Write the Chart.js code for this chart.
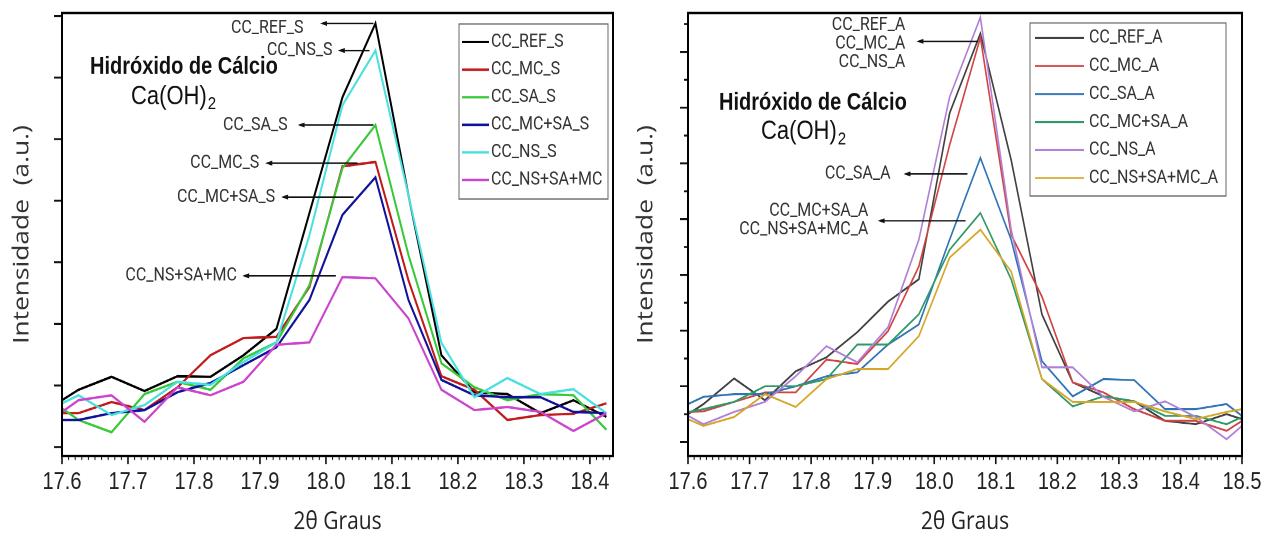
<!DOCTYPE html>
<html>
<head>
<meta charset="utf-8">
<script src="https://cdn.jsdelivr.net/npm/chart.js@4.4.1/dist/chart.umd.min.js"></script>
<style>
  html, body { margin: 0; padding: 0; background: #fff; }
  #wrap { position: relative; width: 1274px; height: 537px; overflow: hidden; }
  canvas { position: absolute; top: 0; }
</style>
</head>
<body>
<div id="wrap">
  <canvas id="chartS" width="630" height="448" style="left:0;width:630px;height:537px"></canvas>
  <canvas id="chartA" width="644" height="448" style="left:630px;width:644px;height:537px"></canvas>
</div>
<script>
// 2θ positions (graus): frame edge, then one reading every 0.05
const twoThetaS = [17.6, 17.625, 17.675, 17.725, 17.775, 17.825, 17.875, 17.925, 17.975,
  18.025, 18.075, 18.125, 18.175, 18.225, 18.275, 18.325, 18.375, 18.425];
const twoThetaA = [17.6, 17.625, 17.675, 17.725, 17.775, 17.825, 17.875, 17.925, 17.975,
  18.025, 18.075, 18.125, 18.175, 18.225, 18.275, 18.325, 18.375, 18.425, 18.475, 18.5];

// intensidades (a.u.) - serie S
const ccRefS   = [76, 93, 114, 91, 115, 114, 149, 192, 380, 568, 688, 409, 149, 89, 86, 55, 76, 49];
const ccMcS    = [55, 55, 73, 60, 97, 149, 177, 179, 260, 456, 463, 271, 115, 93, 44, 52, 54, 71];
const ccSaS    = [63, 44, 24, 86, 106, 93, 144, 170, 263, 453, 523, 312, 136, 97, 76, 86, 84, 28];
const ccMcSaS  = [44, 44, 55, 60, 89, 104, 133, 162, 239, 377, 438, 239, 109, 84, 81, 81, 57, 55];
const ccNsS    = [71, 84, 52, 68, 106, 101, 138, 170, 344, 555, 644, 409, 169, 81, 112, 86, 94, 55];
const ccNsSaMc = [57, 76, 84, 41, 97, 84, 106, 166, 170, 276, 274, 209, 93, 60, 65, 57, 26, 55];

// intensidades (a.u.) - serie A
const ccRefA    = [50, 68, 114, 75, 127, 152, 197, 252, 292, 590, 733, 506, 229, 107, 82, 73, 38, 32, 50, 41];
const ccMcA     = [54, 55, 72, 89, 89, 148, 140, 199, 315, 533, 726, 372, 261, 107, 89, 59, 38, 38, 20, 38];
const ccSaA     = [68, 81, 86, 86, 100, 118, 125, 175, 211, 363, 510, 363, 145, 82, 113, 111, 59, 59, 68, 47];
const ccMcSaA   = [54, 59, 72, 100, 100, 113, 175, 175, 229, 345, 411, 292, 113, 64, 82, 73, 47, 47, 32, 45];
const ccNsA     = [47, 32, 54, 72, 118, 172, 143, 206, 363, 619, 762, 381, 134, 134, 81, 55, 73, 45, 5, 29];
const ccNsSaMcA = [41, 29, 45, 86, 63, 113, 131, 131, 190, 331, 381, 306, 113, 72, 72, 72, 55, 41, 54, 59];

// ticks
const xTicksS = [17.6, 17.7, 17.8, 17.9, 18.0, 18.1, 18.2, 18.3, 18.4];
const xTicksA = [17.6, 17.7, 17.8, 17.9, 18.0, 18.1, 18.2, 18.3, 18.4, 18.5];
const yTicksS = [0, 100, 200, 300, 400, 500, 600, 700];
const yTicksA = [0, 100, 200, 300, 400, 500, 600, 700];
const yMinorA = [50, 150, 250, 350, 450, 550, 650, 750];

// canvas is drawn 448 high and shown 537 high
const S = 537 / 448;
const LABEL_FONT = '16px Roboto, "Liberation Sans", sans-serif';

function series(label, xs, ys, color, width, i) {
  return {
    label: label,
    data: xs.map((v, k) => ({ x: v, y: ys[k] })),
    borderColor: color,
    borderWidth: width,
    pointRadius: 0,
    tension: 0,
    fill: false,
    order: -i
  };
}

// frame, tick marks, inner legend, arrows and compound name
const frame = {
  id: 'frame',
  afterDraw(chart, args, o) {
    const ctx = chart.ctx, a = chart.chartArea;
    const x = chart.scales.x, y = chart.scales.y;
    ctx.save();

    // 2θ ticks: minor every 0.01, major every 0.1
    ctx.strokeStyle = '#111';
    const n = Math.floor((x.max - x.min) / 0.01 + 1e-6);
    [false, true].forEach(major => {
      ctx.lineWidth = major ? 1.6 : 1;
      ctx.beginPath();
      for (let i = 0; i <= n; i++) {
        if ((i % 10 === 0) !== major) continue;
        const px = x.getPixelForValue(x.min + i * 0.01);
        ctx.moveTo(px, a.bottom);
        ctx.lineTo(px, a.bottom + (major ? 8 : 4) / S);
      }
      ctx.stroke();
    });

    // intensity ticks, outside the frame
    ctx.lineWidth = 1.6;
    ctx.beginPath();
    o.yTicks.forEach(v => {
      const py = y.getPixelForValue(v);
      ctx.moveTo(a.left, py); ctx.lineTo(a.left - 8, py);
    });
    o.yMinor.forEach(v => {
      const py = y.getPixelForValue(v);
      ctx.moveTo(a.left, py); ctx.lineTo(a.left - 4, py);
    });
    ctx.stroke();

    ctx.strokeStyle = '#000';
    ctx.lineWidth = 2;
    ctx.strokeRect(a.left, a.top, a.right - a.left, a.bottom - a.top);

    // legend box
    const L = o.legend;
    ctx.strokeStyle = '#666';
    ctx.lineWidth = 1;
    ctx.strokeRect(L.left, L.top, L.width, L.height);
    ctx.font = LABEL_FONT;
    ctx.textBaseline = 'middle';
    ctx.textAlign = 'left';
    chart.data.datasets.forEach((ds, i) => {
      const ry = L.first + i * L.step;
      ctx.strokeStyle = ds.borderColor;
      ctx.lineWidth = ds.borderWidth;
      ctx.beginPath();
      ctx.moveTo(L.lineX0, ry);
      ctx.lineTo(L.lineX1, ry);
      ctx.stroke();
      ctx.fillStyle = '#333';
      ctx.fillText(ds.label, L.textX, ry);
    });

    // peak arrows with their labels
    ctx.textAlign = 'right';
    o.notes.forEach(nt => {
      const x0 = x.getPixelForValue(nt.from);
      const x1 = x.getPixelForValue(nt.to);
      const py = y.getPixelForValue(nt.at);
      ctx.strokeStyle = '#111';
      ctx.fillStyle = '#111';
      ctx.lineWidth = 1.2;
      ctx.beginPath();
      ctx.moveTo(x0, py);
      ctx.lineTo(x1 + 5, py);
      ctx.stroke();
      ctx.beginPath();
      ctx.moveTo(x1, py);
      ctx.lineTo(x1 + 7, py - 2.5 / S);
      ctx.lineTo(x1 + 7, py + 2.5 / S);
      ctx.closePath();
      ctx.fill();
      const tx = x.getPixelForValue(nt.textX);
      const ty = y.getPixelForValue(nt.textY);
      ctx.fillStyle = '#333';
      nt.lines.forEach((s, k) => {
        ctx.fillText(s, tx, ty + (k - (nt.lines.length - 1) / 2) * 18.5 / S);
      });
    });

    // Hidróxido de Cálcio / Ca(OH)2
    const h = o.heading;
    ctx.textAlign = 'left';
    ctx.fillStyle = '#111';
    ctx.font = 'bold 20px "Liberation Sans", Arial, sans-serif';
    ctx.fillText('Hidróxido de Cálcio', h.x1, h.y1);
    ctx.font = '22px "Liberation Sans", Arial, sans-serif';
    ctx.fillText('Ca(OH)', h.x2, h.y2);
    const w = ctx.measureText('Ca(OH)').width;
    ctx.font = '15px "Liberation Sans", Arial, sans-serif';
    ctx.fillText('2', h.x2 + w + 1, h.y2 + 6);

    ctx.restore();
  }
};

function makeChart(id, sets, xMax, xTicks, yMin, yMax, axisW, padRight, titlePad, plug) {
  return new Chart(document.getElementById(id), {
    type: 'line',
    data: { datasets: sets },
    plugins: [frame],
    options: {
      responsive: false,
      animation: false,
      devicePixelRatio: 2,
      layout: { padding: { top: 13 / S, right: padRight, left: 0, bottom: 0 } },
      plugins: {
        legend: { display: false },
        tooltip: { enabled: false },
        frame: plug
      },
      scales: {
        x: {
          type: 'linear',
          min: 17.6,
          max: xMax,
          grid: { display: false },
          border: { display: false },
          afterBuildTicks: s => { s.ticks = xTicks.map(v => ({ value: v })); },
          afterFit: s => { s.height = 448 - 456 / S; },
          ticks: {
            autoSkip: false,
            maxRotation: 0,
            padding: 2,
            color: '#222',
            font: { family: '"Liberation Sans", Arial, sans-serif', size: 20 },
            callback: v => Number(v).toFixed(1)
          },
          title: {
            display: true,
            text: '2θ Graus',
            color: '#222',
            font: { family: '"Open Sans", sans-serif', size: 21 },
            padding: { top: 0, bottom: 0 }
          }
        },
        y: {
          min: yMin,
          max: yMax,
          grid: { display: false },
          border: { display: false },
          ticks: { display: false },
          afterFit: s => { s.width = axisW; },
          title: {
            display: true,
            text: 'Intensidade  (a.u.)',
            color: '#333',
            font: { family: '"Open Sans", sans-serif', size: 22 },
            padding: { top: titlePad, bottom: 0 }
          }
        }
      }
    }
  });
}

makeChart('chartS', [
  series('CC_REF_S', twoThetaS, ccRefS, '#000000', 2, 0),
  series('CC_MC_S', twoThetaS, ccMcS, '#c01a1a', 2, 1),
  series('CC_SA_S', twoThetaS, ccSaS, '#38c838', 2, 2),
  series('CC_MC+SA_S', twoThetaS, ccMcSaS, '#10109a', 2, 3),
  series('CC_NS_S', twoThetaS, ccNsS, '#48e0e0', 2, 4),
  series('CC_NS+SA+MC', twoThetaS, ccNsSaMc, '#cc44cc', 2, 5)
], 18.435, xTicksS, -14.6, 704.9, 62, 17, 9, {
  yTicks: yTicksS,
  yMinor: [],
  legend: { left: 459, top: 24 / S, width: 149, height: 175 / S, first: 42 / S, step: 27.6 / S,
            lineX0: 462, lineX1: 489, textX: 491 },
  heading: { x1: 90, y1: 67 / S, x2: 131, y2: 97 / S },
  notes: [
    { lines: ['CC_REF_S'], textX: 17.966, textY: 680, from: 18.072, to: 17.991, at: 688 },
    { lines: ['CC_NS_S'], textX: 18.010, textY: 644, from: 18.066, to: 18.018, at: 644 },
    { lines: ['CC_SA_S'], textX: 17.942, textY: 523, from: 18.072, to: 17.957, at: 523 },
    { lines: ['CC_MC_S'], textX: 17.899, textY: 461, from: 18.048, to: 17.908, at: 461 },
    { lines: ['CC_MC+SA_S'], textX: 17.923, textY: 406, from: 18.042, to: 17.932, at: 406 },
    { lines: ['CC_NS+SA+MC'], textX: 17.865, textY: 278, from: 18.015, to: 17.873, at: 278 }
  ]
});

makeChart('chartA', [
  series('CC_REF_A', twoThetaA, ccRefA, '#404040', 1.6, 0),
  series('CC_MC_A', twoThetaA, ccMcA, '#d04444', 1.6, 1),
  series('CC_SA_A', twoThetaA, ccSaA, '#2f74b5', 1.6, 2),
  series('CC_MC+SA_A', twoThetaA, ccMcSaA, '#2f9a68', 1.6, 3),
  series('CC_NS_A', twoThetaA, ccNsA, '#b080d8', 1.6, 4),
  series('CC_NS+SA+MC_A', twoThetaA, ccNsSaMcA, '#d6a628', 1.6, 5)
], 18.5, xTicksA, -25.1, 769.8, 58, 32, 2.8, {
  yTicks: yTicksA,
  yMinor: yMinorA,
  legend: { left: 400, top: 23 / S, width: 196, height: 173 / S, first: 38 / S, step: 28 / S,
            lineX0: 405, lineX1: 454, textX: 459 },
  heading: { x1: 89, y1: 103 / S, x2: 131, y2: 132 / S },
  notes: [
    { lines: ['CC_REF_A', 'CC_MC_A', 'CC_NS_A'], textX: 17.953, textY: 715, from: 18.071, to: 17.971, at: 719 },
    { lines: ['CC_SA_A'], textX: 17.929, textY: 481, from: 18.054, to: 17.950, at: 481 },
    { lines: ['CC_MC+SA_A', 'CC_NS+SA+MC_A'], textX: 17.893, textY: 398, from: 18.051, to: 17.908, at: 397 }
  ]
});
</script>
</body>
</html>
